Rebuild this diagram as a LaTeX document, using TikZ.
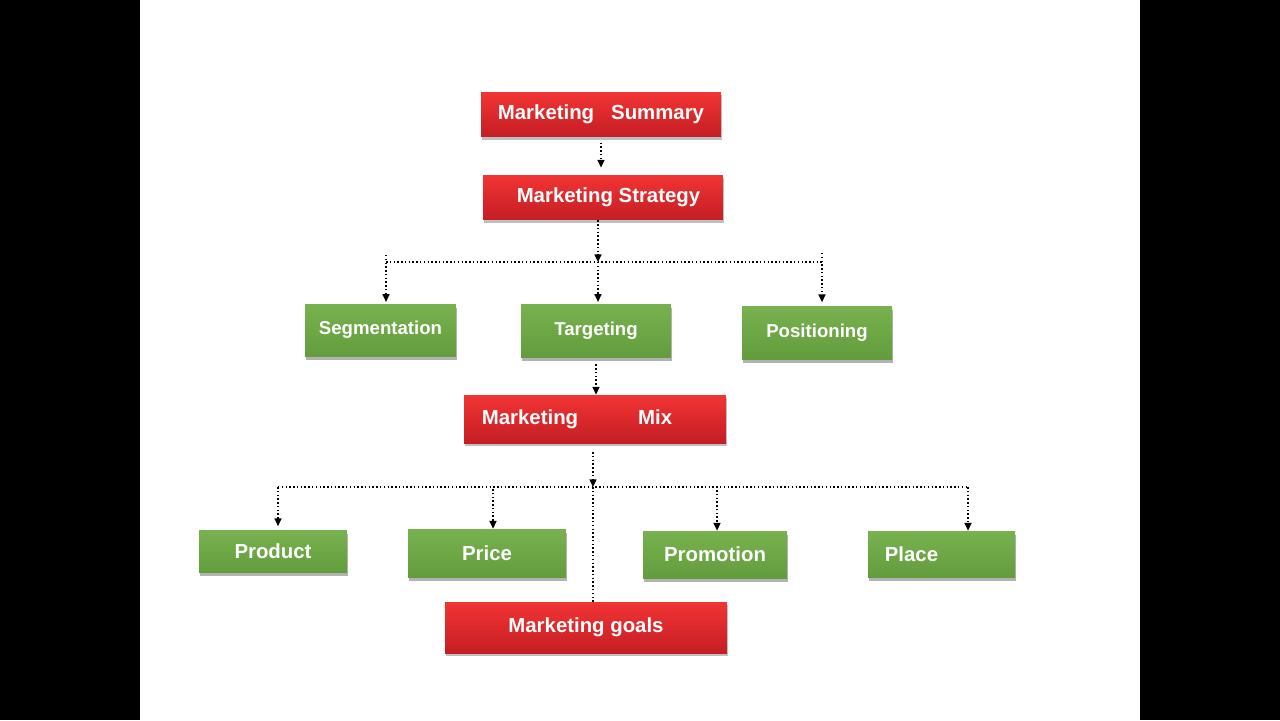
\documentclass[tikz,border=0pt]{standalone}
\usepackage{fontspec}
\setmainfont{Liberation Sans}
\usetikzlibrary{positioning,arrows.meta,shadows}
\definecolor{redtop}{RGB}{242,52,52}
\definecolor{redbot}{RGB}{196,30,36}
\definecolor{greentop}{RGB}{120,178,80}
\definecolor{greenbot}{RGB}{98,156,60}

\begin{document}
\begin{tikzpicture}[x=0.02cm, y=-0.02cm,
    every node/.style={font=\bfseries\fontsize{11.6}{14}\selectfont, text=white, align=center},
    redbox/.style={rectangle, top color=redtop, bottom color=redbot, inner sep=0pt,
        drop shadow={shadow xshift=0.4pt, shadow yshift=-1.8pt, fill=black, opacity=0.25}},
    greenbox/.style={rectangle, top color=greentop, bottom color=greenbot, inner sep=0pt,
        drop shadow={shadow xshift=0.4pt, shadow yshift=-2pt, fill=black, opacity=0.3}},
    topgreen/.style={greenbox, font=\bfseries\fontsize{10.6}{13}\selectfont},
    dline/.style={line width=0.85pt, dash pattern=on 0.85pt off 1.3pt},
    arr/.style={dline, -{Triangle[length=4.4pt,width=4pt]}}
]
% page with black side bars
\useasboundingbox (0,0) rectangle (1280,720);
\fill[white] (0,0) rectangle (1280,720);
\fill[black] (0,0) rectangle (140,720);
\fill[black] (1140,0) rectangle (1280,720);

% summary and strategy
\node[redbox, minimum width=4.8cm, minimum height=0.9cm] (summary) at (601,114.5) {\raisebox{-1pt}{Marketing\hspace{0.34cm}Summary}};
\node[redbox, minimum width=4.8cm, minimum height=0.9cm] (strategy) at (603,197.5) {\raisebox{-2pt}{\hspace{0.22cm}Marketing Strategy}};

% STP row
\node[topgreen, minimum width=3.02cm, minimum height=1.04cm] (seg) at (380.5,330) {\raisebox{-1pt}{Segmentation}};
\node[topgreen, minimum width=3.0cm, minimum height=1.06cm] (targ) at (596,330.5) {\raisebox{-1pt}{Targeting}};
\node[topgreen, minimum width=3.0cm, minimum height=1.06cm] (pos) at (817,332.5) {\raisebox{-1pt}{Positioning}};

% mix
\node[redbox, minimum width=5.24cm, minimum height=0.96cm] (mix) at (595,419) {Marketing\hspace{1.2cm}Mix\hspace{0.72cm}};

% 4P row
\node[greenbox, minimum width=2.96cm, minimum height=0.84cm] (product) at (273,551) {Product};
\node[greenbox, minimum width=3.16cm, minimum height=0.96cm] (price) at (487,553) {Price};
\node[greenbox, minimum width=2.88cm, minimum height=0.94cm] (promo) at (715,554.5) {\raisebox{-1pt}{Promotion}};
\node[greenbox, minimum width=2.94cm, minimum height=0.92cm] (place) at (941.5,554) {\raisebox{-1pt}{Place\hspace{1.2cm}}};

% goals
\node[redbox, minimum width=5.64cm, minimum height=1.02cm] (goals) at (586,627.5) {\raisebox{-1pt}{Marketing goals}};

% summary -> strategy
\draw[arr, shorten <=3pt, shorten >=4pt] (summary.south) -- (summary.south |- strategy.north);

% strategy -> STP
\coordinate (stp) at (598,262);
\coordinate (segtop) at (386,255);
\coordinate (postop) at (822,253);
\draw[arr] (strategy.south -| stp) -- (stp);
\draw[dline] (segtop |- stp) -- (postop |- stp);
\draw[arr, shorten >=1pt] (segtop) -- (segtop |- seg.north);
\draw[arr, shorten >=1pt] (stp) -- (stp |- targ.north);
\draw[arr, shorten >=2pt] (postop) -- (postop |- pos.north);

% targeting -> mix
\draw[arr, shorten <=4pt] (targ.south) -- (targ.south |- mix.north);

% mix -> 4P and goals
\coordinate (mxp) at (593,487);
\coordinate (prtop) at (278,487);
\coordinate (pitop) at (493,489);
\coordinate (potop) at (717,490);
\coordinate (pltop) at (968,487);
\draw[arr, shorten <=5pt] (mix.south -| mxp) -- (mxp);
\draw[dline] (prtop) -- (pltop);
\draw[arr, shorten >=2pt] (prtop) -- (prtop |- product.north);
\draw[arr] (pitop) -- (pitop |- price.north);
\draw[arr] (potop) -- (potop |- promo.north);
\draw[arr] (pltop) -- (pltop |- place.north);
\draw[dline] (mxp) -- (mxp |- goals.north);
\end{tikzpicture}
\end{document}
